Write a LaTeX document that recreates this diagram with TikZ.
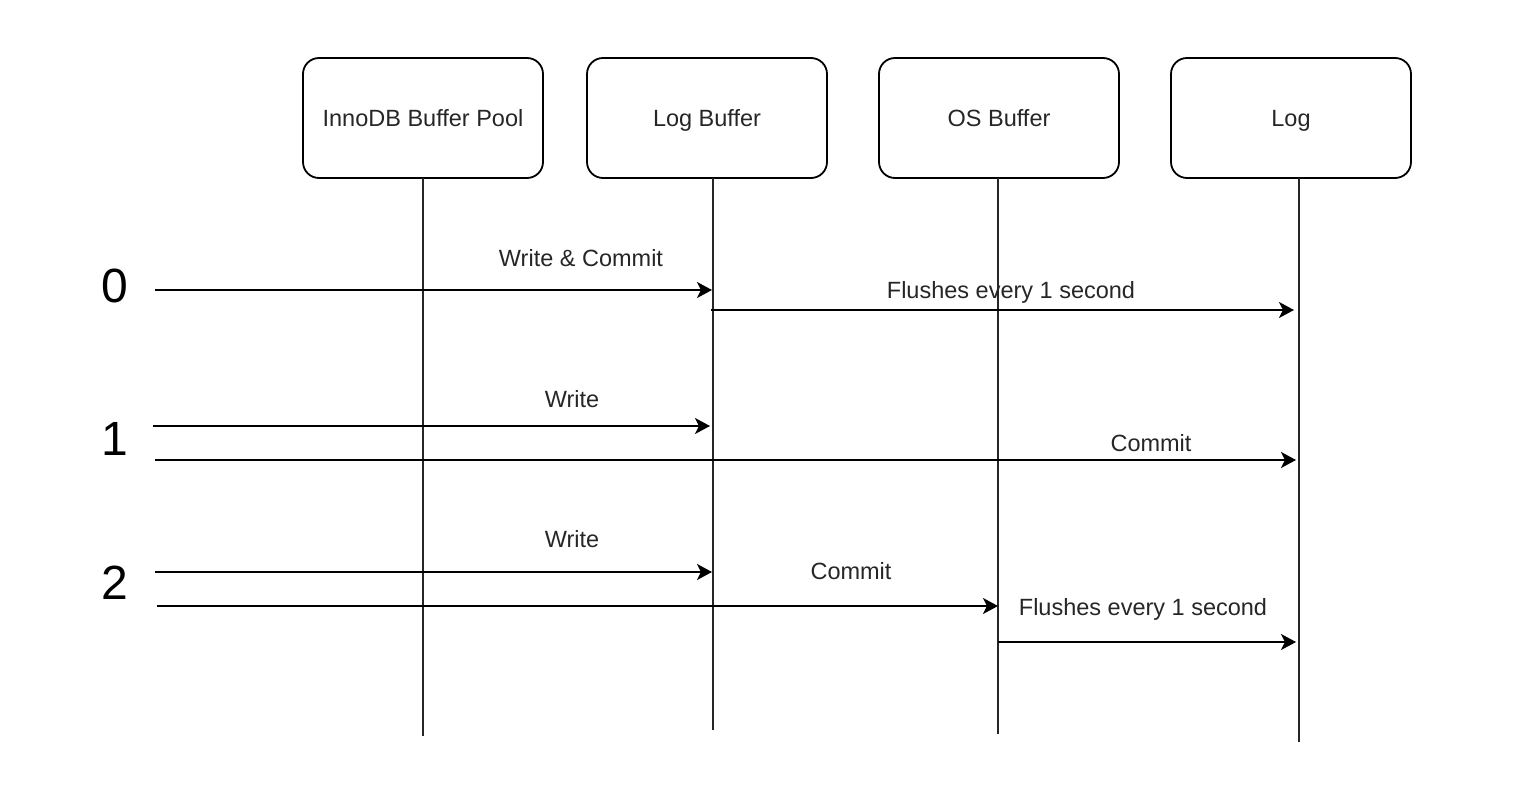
\documentclass[tikz,border=0pt]{standalone}
\usepackage{fontspec}
\setmainfont{Liberation Sans}
\usetikzlibrary{arrows.meta}
\begin{document}
\begin{tikzpicture}[x=1pt,y=-1pt,
  actor/.style={draw=black,line width=1.8pt,rounded corners=16pt,minimum width=240pt,minimum height=120pt,inner sep=0pt,text height=20pt,text depth=3pt,font=\fontsize{23.5}{28}\selectfont,text=black!85},
  life/.style={draw=black!85,line width=1.8pt},
  msg/.style={draw=black,line width=1.8pt,-{Stealth[length=15pt,width=16pt,inset=4pt]}},
  lbl/.style={font=\fontsize{23.5}{28}\selectfont,text=black!85,inner sep=0pt,text height=20pt,text depth=3pt},
  num/.style={font=\fontsize{48}{56}\selectfont,text=black,inner sep=0pt}]
\useasboundingbox (0,0) rectangle (1518,786);
% actors
\node[actor] (pool) at (423,118) {InnoDB Buffer Pool};
\node[actor] (logbuf) at (707,118) {Log Buffer};
\node[actor] (osbuf) at (999,118) {OS Buffer};
\node[actor] (log) at (1291,118) {Log};
% lifelines
\coordinate (l1t) at (423,178); \coordinate (l1b) at (423,736);
\coordinate (l2t) at (713,178); \coordinate (l2b) at (713,730);
\coordinate (l3t) at (998,178); \coordinate (l3b) at (998,734);
\coordinate (l4t) at (1299,178); \coordinate (l4b) at (1299,742);
\draw[life] (l1t) -- (l1b);
\draw[life] (l2t) -- (l2b);
\draw[life] (l3t) -- (l3b);
\draw[life] (l4t) -- (l4b);
% mode numbers
\node[num] (n0) at (115,286) {0};
\node[num] (n1) at (115,439) {1};
\node[num] (n2) at (115,583) {2};
% mode 0
\coordinate (a0s) at (155,290); \coordinate (a0e) at (712,290);
\draw[msg] (a0s) -- (a0e);
\node[lbl] (t0a) at (581,258) {Write \& Commit};
\coordinate (b0s) at (711,310); \coordinate (b0e) at (1294,310);
\draw[msg] (b0s) -- (b0e);
\node[lbl] (t0b) at (1011,290) {Flushes every 1 second};
% mode 1
\coordinate (a1s) at (153,426); \coordinate (a1e) at (710,426);
\draw[msg] (a1s) -- (a1e);
\node[lbl] (t1a) at (572,399) {Write};
\coordinate (b1s) at (155,460); \coordinate (b1e) at (1296,460);
\draw[msg] (b1s) -- (b1e);
\node[lbl] (t1b) at (1151,443) {Commit};
% mode 2
\coordinate (a2s) at (155,572); \coordinate (a2e) at (712,572);
\draw[msg] (a2s) -- (a2e);
\node[lbl] (t2a) at (572,539) {Write};
\coordinate (b2s) at (157,606); \coordinate (b2e) at (998,606);
\draw[msg] (b2s) -- (b2e);
\node[lbl] (t2b) at (851,571) {Commit};
\coordinate (c2s) at (998,642); \coordinate (c2e) at (1296,642);
\draw[msg] (c2s) -- (c2e);
\node[lbl] (t2c) at (1143,607) {Flushes every 1 second};
\end{tikzpicture}
\end{document}
